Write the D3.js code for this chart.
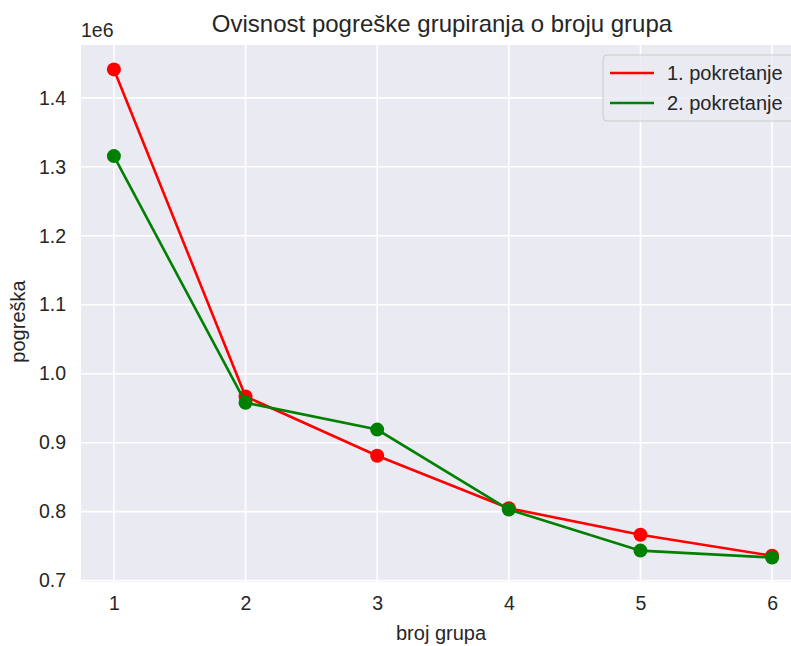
<!DOCTYPE html>
<html>
<head>
<meta charset="utf-8">
<script src="https://cdn.jsdelivr.net/npm/d3@7"></script>
<style>
  html, body { margin: 0; padding: 0; background: #ffffff; }
  svg { display: block; }
  text { font-family: "Liberation Sans", Arial, sans-serif; fill: #262626; }
</style>
</head>
<body>
<svg id="chart" width="791" height="646"></svg>
<script>
const groups = [1, 2, 3, 4, 5, 6];
const run1 = [1.4412e6, 0.967e6, 0.881e6, 0.805e6, 0.7665e6, 0.736e6];
const run2 = [1.3155e6, 0.958e6, 0.919e6, 0.803e6, 0.7435e6, 0.7334e6];
const seriesNames = ["1. pokretanje", "2. pokretanje"];
const seriesColors = ["#ff0000", "#008000"];
const yTicks = [0.7e6, 0.8e6, 0.9e6, 1.0e6, 1.1e6, 1.2e6, 1.3e6, 1.4e6];
const xTicks = [1, 2, 3, 4, 5, 6];
const title = "Ovisnost pogreške grupiranja o broju grupa";
const xLabel = "broj grupa";
const yLabel = "pogreška";

const svg = d3.select("#chart");
const pLeft = 81, pRight = 805, pTop = 45, pBottom = 582;

const allVals = run1.concat(run2);
const yMin = d3.min(allVals), yMax = d3.max(allVals);
const yPad = (yMax - yMin) * 0.05;
const x = d3.scaleLinear().domain([0.75, 6.25]).range([pLeft, pRight]);
const y = d3.scaleLinear().domain([yMin - yPad, yMax + yPad]).range([pBottom, pTop]);

svg.append("rect").attr("x", pLeft).attr("y", pTop)
  .attr("width", pRight - pLeft).attr("height", pBottom - pTop).attr("fill", "#eaeaf2");

// grid
svg.append("g").selectAll("line").data(yTicks).join("line")
  .attr("x1", pLeft).attr("x2", pRight)
  .attr("y1", d => y(d)).attr("y2", d => y(d))
  .attr("stroke", "#ffffff").attr("stroke-width", 1.6);
svg.append("g").selectAll("line").data(xTicks).join("line")
  .attr("y1", pTop).attr("y2", pBottom)
  .attr("x1", d => x(d)).attr("x2", d => x(d))
  .attr("stroke", "#ffffff").attr("stroke-width", 1.6);

// axes (tick labels only)
const xAxis = svg.append("g").attr("transform", `translate(0,${pBottom})`)
  .call(d3.axisBottom(x).tickValues(xTicks).tickSize(0).tickPadding(14).tickFormat(d3.format("d")));
xAxis.select(".domain").remove();
xAxis.selectAll("text").attr("font-size", 19.5).style("font-family", "Liberation Sans, Arial, sans-serif").attr("fill", "#262626");

const yAxis = svg.append("g").attr("transform", `translate(${pLeft},0)`)
  .call(d3.axisLeft(y).tickValues(yTicks).tickSize(0).tickPadding(15).tickFormat(d => (d / 1e6).toFixed(1)));
yAxis.select(".domain").remove();
yAxis.selectAll("text").attr("font-size", 19.5).style("font-family", "Liberation Sans, Arial, sans-serif").attr("fill", "#262626");

// offset text
svg.append("text").attr("x", pLeft).attr("y", 37).attr("font-size", 19.5).text("1e6");

// title & labels
svg.append("text").attr("x", (pLeft + pRight) / 2 - 1).attr("y", 32).attr("text-anchor", "middle")
  .attr("font-size", 24).text(title);
svg.append("text").attr("x", (pLeft + pRight) / 2 - 2).attr("y", 640).attr("text-anchor", "middle")
  .attr("font-size", 20).text(xLabel);
svg.append("text").attr("transform", `translate(25,${(pTop + pBottom) / 2 + 8}) rotate(-90)`)
  .attr("text-anchor", "middle").attr("font-size", 20).text(yLabel);

// series
const line = d3.line().x((d, i) => x(groups[i])).y(d => y(d));
[run1, run2].forEach((vals, si) => {
  const g = svg.append("g");
  g.append("path").datum(vals).attr("d", line).attr("fill", "none")
    .attr("stroke", seriesColors[si]).attr("stroke-width", 2.6);
  g.selectAll("circle").data(vals).join("circle")
    .attr("cx", (d, i) => x(groups[i])).attr("cy", d => y(d)).attr("r", 7)
    .attr("fill", seriesColors[si]);
});

// legend
const lg = svg.append("g");
lg.append("rect").attr("x", 603).attr("y", 55).attr("width", 200).attr("height", 66)
  .attr("rx", 4).attr("fill", "#eaeaf2").attr("fill-opacity", 0.8)
  .attr("stroke", "#cccccc").attr("stroke-width", 1);
seriesNames.forEach((name, i) => {
  const cy = 73 + i * 30;
  lg.append("line").attr("x1", 610).attr("x2", 654).attr("y1", cy).attr("y2", cy)
    .attr("stroke", seriesColors[i]).attr("stroke-width", 2.6);
  lg.append("text").attr("x", 667).attr("y", cy + 7).attr("font-size", 20).text(name);
});
</script>
</body>
</html>
